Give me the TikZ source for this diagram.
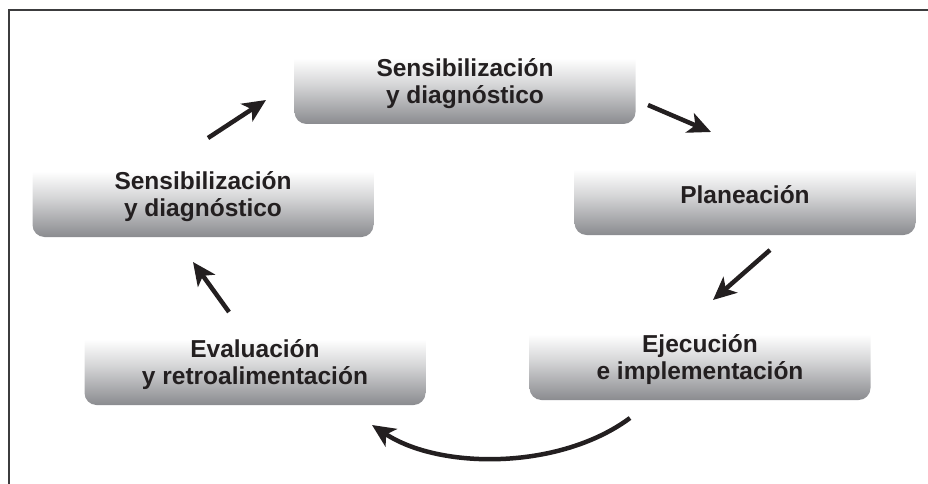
\documentclass[tikz,border=0pt]{standalone}
\usepackage{fontspec}
\setmainfont{Liberation Sans}
\usepackage{tikz}
\usetikzlibrary{arrows.meta}
\definecolor{stagegray}{RGB}{138,139,143}
\definecolor{inkdark}{RGB}{35,31,32}
\definecolor{framegray}{RGB}{60,60,62}
\pgfdeclareverticalshading{stageshade}{100bp}{color(0bp)=(stagegray); color(25bp)=(stagegray); color(50bp)=(stagegray!35!white); color(66bp)=(white); color(100bp)=(white)}
\tikzset{
  stage/.style={shading=stageshade, rounded corners=12pt, minimum width=341pt,
    minimum height=80pt, align=center, text=inkdark,
    font=\bfseries\fontsize{24.5}{27}\selectfont},
  cyclearrow/.style={draw=inkdark, line width=4.5pt,
    -{Stealth[length=23pt,width=21pt,inset=6pt]}}
}

\begin{document}
\begin{tikzpicture}[x=1pt,y=-1pt]

        \useasboundingbox (0,0) rectangle (928,484);
        % frame
        \draw[framegray, line width=2pt] (9,484) -- (9,10) -- (928,10);

        % stages
        \node[stage] (sensib) at (465,84) {Sensibilización\\y diagnóstico};
        \node[stage] (planea) at (745,195) {Planeación};
        \node[stage] (ejecuc) at (700,360) {Ejecución\\e implementación};
        \node[stage] (evalua) at (255,365) {Evaluación\\y retroalimentación};
        \node[stage] (sensibB) at (203,197) {Sensibilización\\y diagnóstico};

        % arrow ends
        \coordinate (a1s) at (648,105);
        \coordinate (a1e) at (711,132);
        \coordinate (a2s) at (770,250);
        \coordinate (a2e) at (713,300);
        \coordinate (a3s) at (630,418);
        \coordinate (a3e) at (372,425);
        \coordinate (a4s) at (229,312);
        \coordinate (a4e) at (193,262);
        \coordinate (a5s) at (208,138);
        \coordinate (a5e) at (266,100);

        % arrows
        \draw[cyclearrow] (a1s) -- (a1e);
        \draw[cyclearrow] (a2s) -- (a2e);
        \draw[cyclearrow] (a3s) .. controls (560,470) and (440,470) .. (a3e);
        \draw[cyclearrow] (a4s) -- (a4e);
        \draw[cyclearrow] (a5s) -- (a5e);

    \end{tikzpicture}
\end{document}
